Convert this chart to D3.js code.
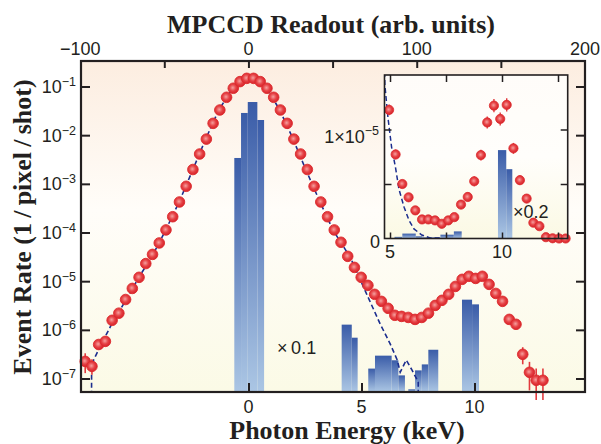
<!DOCTYPE html>
<html><head><meta charset="utf-8">
<script src="https://cdn.jsdelivr.net/npm/d3@7"></script>
<style>body{margin:0;background:#fff}svg{display:block}</style>
</head><body>
<svg id="chart" width="601" height="444"></svg>
<script>
// main data: MPCCD readout bins (arb. units) and event rate
const readout = [-97,-93,-89,-85,-81,-77,-73,-69,-65,-61,-57,-53,-49,-45,-41,-37,-33,-29,-25,-21,-17,-13,-9,-5,-1,3,7,11,15,19,23,27,31,35,39,43,47,51,55,59,63,67,71,75,79,83,87,91,95,99,103,107,111,115,119,123,127,131,135,139,143,147,151,155,159,163,167,171,175];
const rate = [2.25e-7,1.78e-7,5.0e-7,5.8e-7,1.57e-6,2.2e-6,4.2e-6,7.1e-6,1.2e-5,2.3e-5,3.55e-5,6.1e-5,1.13e-4,2.11e-4,4.24e-4,8.9e-4,1.97e-3,4.1e-3,8.3e-3,1.75e-2,3.29e-2,6.0e-2,9.2e-2,0.126,0.147,0.147,0.126,0.092,0.06,0.0329,0.0175,8.3e-3,4.1e-3,1.97e-3,8.9e-4,4.24e-4,2.11e-4,1.13e-4,6.3e-5,3.24e-5,1.92e-5,1.2e-5,8.2e-6,5.37e-6,3.85e-6,2.77e-6,1.99e-6,1.89e-6,1.8e-6,1.64e-6,1.8e-6,2.2e-6,3.18e-6,4.04e-6,5.37e-6,7.8e-6,1.09e-5,1.26e-5,1.14e-5,1.26e-5,8.6e-6,5.6e-6,3.85e-6,1.64e-6,1.3e-6,3.14e-7,1.34e-7,9.2e-8,9.2e-8];

// visible error bars (readout, upper, lower)
const errX  = [-97, -93, -89, -85, 163, 167, 171, 175];
const errHi = [3.3e-7, 2.5e-7, 6.2e-7, 7.0e-7, 4.4e-7, 2.2e-7, 1.6e-7, 1.6e-7];
const errLo = [1.29e-7, 1.2e-7, 4.0e-7, 4.6e-7, 1.96e-7, 5.7e-8, 3.6e-8, 3.6e-8];

// fit curve (dashed)
const fitX = [-93.3,-93.2,-87.8,-80.7,-73,-64.7,-57,-49.3,-41,-33.2,-25.5,-17.8,-9.5,-3.6,0.6,4.7,10.7,18.4,26.1,33.8,42.1,50.4,60.5,70.6,78.3,84.3,88.4,90.2,93.8,97.3,100.9,101];
const fitY = [1e-9,1.96e-7,4.8e-7,1.43e-6,4.0e-6,1.26e-5,3.4e-5,1.1e-4,4.4e-4,1.9e-3,8.2e-3,3.2e-2,9.1e-2,0.135,0.152,0.142,0.093,0.034,9.0e-3,2.07e-3,4.57e-4,1.1e-4,3.1e-5,5.1e-6,1.32e-6,5.1e-7,2.4e-7,1.35e-7,2.4e-7,1.47e-7,8.5e-8,1e-9];

// histogram x0.1 (bin edges in readout)
const histLo  = [-8.4,-4.4,-0.4,5.3,55.4,61.4,71.2,75.2,85.1,89.1,95.0,99.0,103.0,106.9,126.9,132.9];
const histHi  = [-4.4,-0.4,5.3,9.3,61.4,64.9,75.2,85.1,89.1,93.0,99.0,103.0,106.9,112.8,132.9,137.0];
const histVal = [3.4e-3,2.86e-2,4.8e-2,2.05e-2,1.28e-6,6.9e-7,1.6e-7,2.95e-7,2.37e-7,1.16e-7,6.0e-8,1.47e-7,1.95e-7,3.9e-7,4.17e-6,3.34e-6];

// inset (linear scale, keV)
const insetE    = [4.96,5.25,5.55,5.83,6.13,6.43,6.71,7.01,7.31,7.60,7.87,8.17,8.47,8.76,9.06,9.34,9.64,9.92,10.21,10.51,10.80,11.10,11.40,11.67,11.96,12.26,12.55,12.84];
const insetRate = [1.18,0.771,0.500,0.378,0.258,0.175,0.175,0.166,0.135,0.166,0.196,0.311,0.381,0.525,0.765,1.065,1.219,1.097,1.226,0.827,0.535,0.366,0.145,0.113,0.012,0.002,0,0];
const insetErr  = [0.05,0.045,0.04,0.04,0.035,0.035,0.035,0.035,0.035,0.035,0.035,0.04,0.04,0.045,0.05,0.055,0.06,0.06,0.06,0.05,0.045,0.04,0.035,0.035,0.02,0.02,0.02,0.02];
const insetFitE = [4.75,4.77,4.91,5.07,5.25,5.40,5.63,5.85,6.07,6.42,6.79,7.10,7.32];
const insetFitY = [1.6,1.41,1.106,0.839,0.645,0.452,0.286,0.166,0.088,0.032,0.005,0.005,0.005];
const insetHistLo  = [5.2,5.55,6.15,6.45,7.25,7.85,9.82,10.19];
const insetHistHi  = [5.55,6.15,6.45,7.25,7.85,8.2,10.19,10.46];
const insetHistVal = [0.015,0.045,0.02,0.01,0.035,0.065,0.811,0.636];

// ticks
const topLabels = [-100, 0, 100, 200];
const topTicks = [-50, 0, 50, 100, 150];
const bottomTicks = [0, 5, 10];
const yDecades = [-1, -2, -3, -4, -5, -6, -7];
const insetXTicks = [5, 7.5, 10, 12.5];
const insetXLabels = [5, 10];
const insetYTicks = [0.5, 1.0];

const L = 81, R = 585, T = 61, B = 392;
const IL = 384.5, IR = 567.7, IT = 75, IB = 238.5;
const sans = 'Liberation Sans, Arial, sans-serif';
const serif = 'Liberation Serif, Times New Roman, serif';

const svg = d3.select('#chart');
const defs = svg.append('defs');

function vgrad(id, stops) {
  const g = defs.append('linearGradient').attr('id', id)
    .attr('x1', 0).attr('y1', 0).attr('x2', 0).attr('y2', 1);
  stops.forEach(s => g.append('stop').attr('offset', s[0]).attr('stop-color', s[1]));
}
vgrad('bgGrad', [[0, '#fcede0'], [0.45, '#fffdf9'], [1, '#fbfae6']]);
vgrad('insetGrad', [[0, '#fffcf9'], [0.5, '#fffefb'], [1, '#fbf9e4']]);
vgrad('barGrad', [[0, '#3a5ca8'], [1, '#abc6e4']]);
const rg = defs.append('radialGradient').attr('id', 'dotGrad')
  .attr('cx', '45%').attr('cy', '45%').attr('r', '55%');
rg.append('stop').attr('offset', 0).attr('stop-color', '#f5a09f');
rg.append('stop').attr('offset', 0.55).attr('stop-color', '#e64245');
rg.append('stop').attr('offset', 1).attr('stop-color', '#d6222a');

defs.append('clipPath').attr('id', 'plotClip').append('rect')
  .attr('x', L).attr('y', T).attr('width', R - L).attr('height', B - T);
defs.append('clipPath').attr('id', 'insetClip').append('rect')
  .attr('x', IL).attr('y', IT).attr('width', IR - IL).attr('height', IB - IT);

const xTop = d3.scaleLinear().domain([-99.5, 200]).range([L, R]);
const xE = d3.scaleLinear().domain([-7.41, 14.89]).range([L, R]);
const y = d3.scaleLog().domain([Math.pow(10, -7.277), Math.pow(10, -0.476)]).range([B, T]);

svg.append('rect').attr('x', L).attr('y', T).attr('width', R - L).attr('height', B - T)
  .attr('fill', 'url(#bgGrad)');

// histogram
svg.append('g').selectAll('rect').data(histVal).join('rect')
  .attr('x', (d, i) => xTop(histLo[i]))
  .attr('width', (d, i) => xTop(histHi[i]) - xTop(histLo[i]))
  .attr('y', d => y(d))
  .attr('height', d => B - y(d))
  .attr('fill', 'url(#barGrad)');

// fit
const fitLine = d3.line().x(d => xTop(d[0])).y(d => y(d[1]));
svg.append('path').datum(fitX.map((v, i) => [v, fitY[i]]))
  .attr('clip-path', 'url(#plotClip)')
  .attr('d', fitLine).attr('fill', 'none')
  .attr('stroke', '#1b2d8e').attr('stroke-width', 1.6).attr('stroke-dasharray', '5,3');

// error bars
svg.append('g').selectAll('line').data(errX).join('line')
  .attr('x1', d => xTop(d)).attr('x2', d => xTop(d))
  .attr('y1', (d, i) => y(errHi[i])).attr('y2', (d, i) => y(errLo[i]))
  .attr('stroke', '#e23a3e').attr('stroke-width', 1.6);

// points
svg.append('g').selectAll('circle').data(rate).join('circle')
  .attr('cx', (d, i) => xTop(readout[i])).attr('cy', d => y(d)).attr('r', 5.3)
  .attr('fill', 'url(#dotGrad)').attr('stroke', '#dc2a2c').attr('stroke-width', 0.9);

// axes (ticks only, frame drawn separately)
const tk = 9;
svg.append('g').attr('transform', `translate(${L},0)`)
  .call(d3.axisLeft(y).tickValues(yDecades.map(d => Math.pow(10, d))).tickSize(-tk).tickFormat(''));
svg.append('g').attr('transform', `translate(${R},0)`)
  .call(d3.axisRight(y).tickValues(yDecades.map(d => Math.pow(10, d))).tickSize(-tk).tickFormat(''));
svg.append('g').attr('transform', `translate(0,${T})`)
  .call(d3.axisTop(xTop).tickValues(topTicks).tickSize(-7).tickFormat(''));
svg.append('g').attr('transform', `translate(0,${B})`)
  .call(d3.axisBottom(xE).tickValues(bottomTicks).tickSize(-tk).tickFormat(''));
svg.selectAll('.domain').remove();
svg.selectAll('.tick line').attr('stroke', '#231f20').attr('stroke-width', 2);

svg.append('rect').attr('x', L).attr('y', T).attr('width', R - L).attr('height', B - T)
  .attr('fill', 'none').attr('stroke', '#231f20').attr('stroke-width', 2.2);

// tick labels
svg.append('g').selectAll('text').data(yDecades).join('text')
  .attr('x', 76).attr('y', d => y(Math.pow(10, d)) + 6.5)
  .attr('text-anchor', 'end').attr('font-family', sans).attr('font-size', 18).attr('fill', '#231f20')
  .each(function (d) {
    const t = d3.select(this);
    t.append('tspan').text('10');
    t.append('tspan').attr('dy', -7).attr('font-size', 12.5).text('\u2212' + (-d));
  });
svg.append('g').selectAll('text').data(topLabels).join('text')
  .attr('x', d => xTop(d)).attr('y', 55).attr('text-anchor', 'middle')
  .attr('font-family', sans).attr('font-size', 18).attr('fill', '#231f20')
  .text(d => d3.format('d')(d));
svg.append('g').selectAll('text').data(bottomTicks).join('text')
  .attr('x', d => xE(d)).attr('y', 413).attr('text-anchor', 'middle')
  .attr('font-family', sans).attr('font-size', 18).attr('fill', '#231f20')
  .text(d => d);

svg.append('text').attr('x', 277).attr('y', 354).attr('font-family', sans).attr('font-size', 18)
  .attr('fill', '#231f20').text('\u00d7\u20090.1');

// titles
svg.append('text').attr('x', 331).attr('y', 33).attr('text-anchor', 'middle')
  .attr('font-family', serif).attr('font-weight', 'bold').attr('font-size', 26).attr('fill', '#231f20')
  .text('MPCCD Readout (arb. units)');
svg.append('text').attr('x', 347).attr('y', 439).attr('text-anchor', 'middle')
  .attr('font-family', serif).attr('font-weight', 'bold').attr('font-size', 26).attr('fill', '#231f20')
  .text('Photon Energy (keV)');
svg.append('text').attr('transform', 'translate(31,227) rotate(-90)').attr('text-anchor', 'middle')
  .attr('font-family', serif).attr('font-weight', 'bold').attr('font-size', 26).attr('fill', '#231f20')
  .text('Event Rate (1\u2009/\u2009pixel\u2009/\u2009shot)');

// ---- inset ----
const xI = d3.scaleLinear().domain([4.754, 12.933]).range([IL, IR]);
const yI = d3.scaleLinear().domain([0, 1.5]).range([IB, IT]);
const inset = svg.append('g');
inset.append('rect').attr('x', IL).attr('y', IT).attr('width', IR - IL).attr('height', IB - IT)
  .attr('fill', 'url(#insetGrad)');
inset.append('g').selectAll('rect').data(insetHistVal).join('rect')
  .attr('x', (d, i) => xI(insetHistLo[i]))
  .attr('width', (d, i) => xI(insetHistHi[i]) - xI(insetHistLo[i]))
  .attr('y', d => yI(d)).attr('height', d => IB - yI(d))
  .attr('fill', 'url(#barGrad)');
inset.append('path').datum(insetFitE.map((v, i) => [v, insetFitY[i]]))
  .attr('clip-path', 'url(#insetClip)')
  .attr('d', d3.line().x(d => xI(d[0])).y(d => yI(d[1])))
  .attr('fill', 'none').attr('stroke', '#1b2d8e').attr('stroke-width', 1.5).attr('stroke-dasharray', '5,3');
inset.append('g').selectAll('line').data(insetRate).join('line')
  .attr('x1', (d, i) => xI(insetE[i])).attr('x2', (d, i) => xI(insetE[i]))
  .attr('y1', (d, i) => yI(d + insetErr[i])).attr('y2', (d, i) => yI(Math.max(0, d - insetErr[i])))
  .attr('stroke', '#e23a3e').attr('stroke-width', 1.4);
inset.append('g').selectAll('circle').data(insetRate).join('circle')
  .attr('cx', (d, i) => xI(insetE[i])).attr('cy', d => yI(d)).attr('r', 4.6)
  .attr('fill', 'url(#dotGrad)').attr('stroke', '#dc2a2c').attr('stroke-width', 0.8);

inset.append('g').attr('transform', `translate(0,${IT})`)
  .call(d3.axisTop(xI).tickValues(insetXTicks).tickSize(-7).tickFormat(''));
inset.append('g').attr('transform', `translate(0,${IB})`)
  .call(d3.axisBottom(xI).tickValues(insetXTicks).tickSize(-6).tickFormat(''));
inset.append('g').attr('transform', `translate(${IL},0)`)
  .call(d3.axisLeft(yI).tickValues(insetYTicks).tickSize(-7).tickFormat(''));
inset.append('g').attr('transform', `translate(${IR},0)`)
  .call(d3.axisRight(yI).tickValues(insetYTicks).tickSize(-7).tickFormat(''));
inset.selectAll('.domain').remove();
inset.selectAll('.tick line').attr('stroke', '#231f20').attr('stroke-width', 1.5);
inset.append('rect').attr('x', IL).attr('y', IT).attr('width', IR - IL).attr('height', IB - IT)
  .attr('fill', 'none').attr('stroke', '#231f20').attr('stroke-width', 1.6);

const lab1 = inset.append('text').attr('x', 379).attr('y', 143).attr('text-anchor', 'end')
  .attr('font-family', sans).attr('font-size', 18).attr('fill', '#231f20');
lab1.append('tspan').text('1\u00d710');
lab1.append('tspan').attr('dy', -8).attr('font-size', 12.5).text('\u22125');
inset.append('text').attr('x', 380).attr('y', 248).attr('text-anchor', 'end')
  .attr('font-family', sans).attr('font-size', 18).attr('fill', '#231f20').text('0');
inset.append('g').selectAll('text').data(insetXLabels).join('text')
  .attr('x', d => xI(d)).attr('y', 258).attr('text-anchor', 'middle')
  .attr('font-family', sans).attr('font-size', 18).attr('fill', '#231f20').text(d => d);
inset.append('text').attr('x', 513).attr('y', 218).attr('font-family', sans).attr('font-size', 18)
  .attr('fill', '#231f20').text('\u00d70.2');
</script>
</body></html>
